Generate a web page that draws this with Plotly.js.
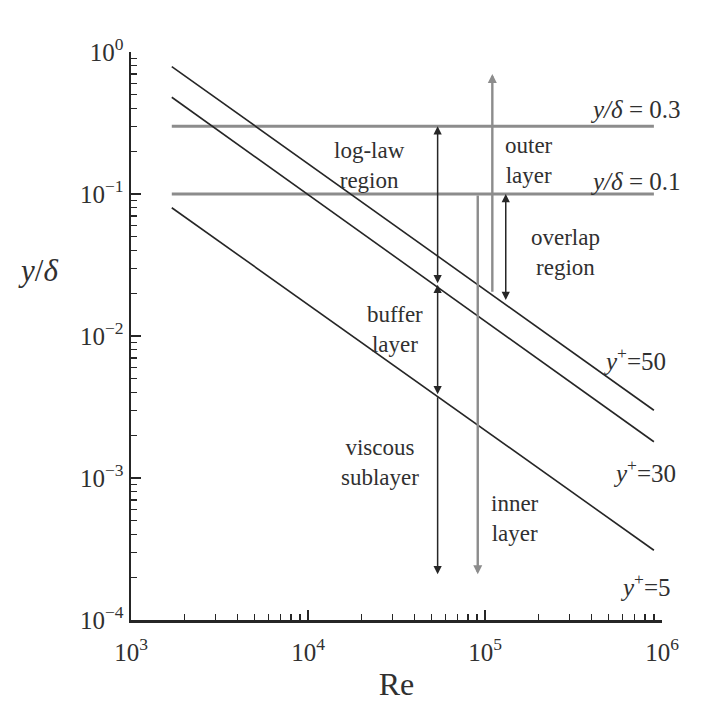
<!DOCTYPE html>
<html>
<head>
<meta charset="utf-8">
<script src="https://cdn.plot.ly/plotly-3.0.1.min.js"></script>
<style>html,body{margin:0;padding:0;background:#fff;}</style>
</head>
<body>
<div id="chart" style="width:721px;height:706px;"></div>
<script>
// ---- data ----
const reLine = [1700, 900000];          // Re at ends of the y+ lines
const yPlus5 = [0.08, 0.00031];
const yPlus30 = [0.48, 0.0018];
const yPlus50 = [0.79, 0.0030];
const reHoriz = [1700, 900000];
const yd03 = [0.3, 0.3];
const yd01 = [0.1, 0.1];

// vertical arrows: Re, from, to, heads, colour group
const arrowRe   = [54000, 54000, 54000, 91000, 110000, 131000];
const arrowFrom = [0.023, 0.0038, 0.0038, 0.1, 0.020, 0.0175];
const arrowTo   = [0.3, 0.023, 0.00021, 0.00021, 0.70, 0.1];
const arrowSide = ['end+start', 'end+start', 'end', 'end', 'end', 'end+start'];
const arrowGray = [false, false, false, true, true, false];

const xTickVals = [1e3, 1e4, 1e5, 1e6];
const xTickText = ['10<sup>3</sup>', '10<sup>4</sup>', '10<sup>5</sup>', '10<sup>6</sup>'];
const yTickVals = [1e-4, 1e-3, 1e-2, 1e-1, 1];
const yTickText = ['10<sup>−4</sup>', '10<sup>−3</sup>', '10<sup>−2</sup>', '10<sup>−1</sup>', '10<sup>0</sup>'];

// ---- layout helpers ----
const W = 721, H = 706;
const L = 131, R = 662, T = 52, B = 620;
function px(x) { return (x - L) / (R - L); }
function py(y) { return (B - y) / (B - T); }

function minorVals(d0, d1) {
  const v = [];
  for (let d = d0; d < d1; d++) for (let k = 2; k <= 9; k++) v.push(k * Math.pow(10, d));
  return v;
}

const dark = '#262626';
const gray = '#8c8c8c';
const txt = '#303030';
const serif = 'Liberation Serif, Times New Roman, serif';

const traces = [
  {x: reHoriz, y: yd03, mode: 'lines', line: {color: gray, width: 3}},
  {x: reHoriz, y: yd01, mode: 'lines', line: {color: gray, width: 3}},
  {x: reLine, y: yPlus50, mode: 'lines', line: {color: dark, width: 1.6}},
  {x: reLine, y: yPlus30, mode: 'lines', line: {color: dark, width: 1.6}},
  {x: reLine, y: yPlus5, mode: 'lines', line: {color: dark, width: 1.6}}
];

const annotations = [];
for (let i = 0; i < arrowRe.length; i++) {
  const lx = Math.log10(arrowRe[i]);
  const g = arrowGray[i];
  annotations.push({
    x: lx, y: Math.log10(arrowTo[i]), ax: lx, ay: Math.log10(arrowFrom[i]),
    xref: 'x', yref: 'y', axref: 'x', ayref: 'y',
    text: '', showarrow: true, arrowhead: 2, startarrowhead: 2,
    arrowsize: g ? 0.75 : 1.1, startarrowsize: g ? 0.75 : 1.1,
    arrowside: arrowSide[i], arrowwidth: g ? 2.4 : 1.5,
    arrowcolor: g ? gray : dark, standoff: 0, startstandoff: 0
  });
}

function label(text, x, y, xanchor, size) {
  annotations.push({
    text: text, xref: 'paper', yref: 'paper', x: px(x), y: py(y),
    xanchor: xanchor || 'center', yanchor: 'middle', showarrow: false,
    align: 'center',
    font: {family: serif, size: size || 23, color: txt}
  });
}
label('log-law<br>region', 369, 165);
label('outer<br>layer', 529, 160);
label('<i>y/δ</i> = 0.3', 683, 110, 'right', 25);
label('<i>y/δ</i> = 0.1', 683, 181, 'right', 25);
label('overlap<br>region', 565, 252);
label('buffer<br>layer', 395, 329);
label('<i>y</i><sup>+</sup>=50', 668, 359, 'right', 25);
label('viscous<br>sublayer', 380, 462);
label('<i>y</i><sup>+</sup>=30', 678, 471, 'right', 25);
label('inner<br>layer', 515, 518);
label('<i>y</i><sup>+</sup>=5', 673, 585, 'right', 25);
label('<i>y</i>/<i>δ</i>', 38, 270, 'center', 31);

const layout = {
  width: W, height: H,
  margin: {l: L, r: W - R, t: T, b: H - B},
  paper_bgcolor: '#fff', plot_bgcolor: '#fff',
  showlegend: false,
  font: {family: serif, color: txt},
  xaxis: {
    type: 'log', range: [3, 6], showgrid: false, zeroline: false,
    showline: true, linecolor: dark, linewidth: 2.5, mirror: false,
    tickmode: 'array', tickvals: xTickVals, ticktext: xTickText,
    ticks: 'inside', ticklen: 10, tickwidth: 1.6, tickcolor: dark,
    ticklabelstandoff: 8,
    tickfont: {family: serif, size: 25, color: txt},
    minor: {tickmode: 'array', tickvals: minorVals(3, 6), ticks: 'inside', ticklen: 6, tickwidth: 1.4, tickcolor: dark, showgrid: false},
    title: {text: 'Re', font: {family: serif, size: 32, color: txt}, standoff: 8}
  },
  yaxis: {
    type: 'log', range: [-4, 0], showgrid: false, zeroline: false,
    showline: true, linecolor: dark, linewidth: 2.5, mirror: false,
    tickmode: 'array', tickvals: yTickVals, ticktext: yTickText,
    ticks: 'inside', ticklen: 10, tickwidth: 1.6, tickcolor: dark,
    tickfont: {family: serif, size: 25, color: txt},
    minor: {tickmode: 'array', tickvals: minorVals(-4, 0), ticks: 'inside', ticklen: 6, tickwidth: 1.4, tickcolor: dark, showgrid: false}
  },
  annotations: annotations
};

Plotly.newPlot('chart', traces, layout, {staticPlot: true, displayModeBar: false});
</script>
</body>
</html>
